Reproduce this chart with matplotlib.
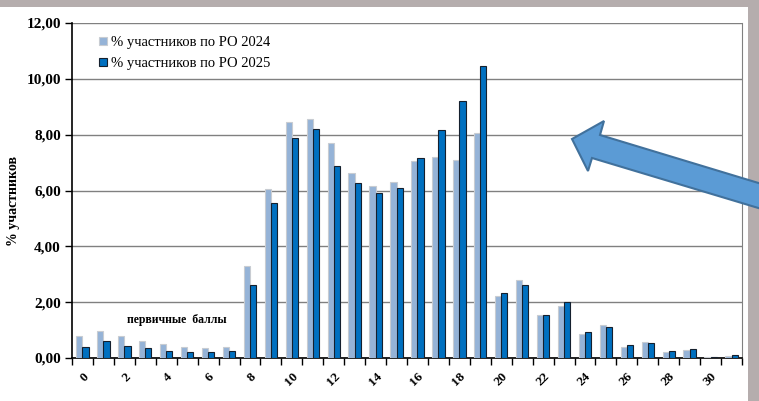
import numpy as np
import matplotlib
matplotlib.use("Agg")
import matplotlib.pyplot as plt
from matplotlib.patches import Polygon, Rectangle
from matplotlib.ticker import FuncFormatter

# первичные баллы 0..31
scores = list(range(32))
pct_2024 = [0.80, 0.98, 0.80, 0.62, 0.50, 0.40, 0.36, 0.38, 3.30, 6.07,
            8.47, 8.55, 7.69, 6.64, 6.17, 6.31, 7.04, 7.21, 7.10, 8.05,
            2.22, 2.78, 1.53, 1.85, 0.85, 1.19, 0.40, 0.58, 0.22, 0.29,
            0.02, 0.06]
pct_2025 = [0.38, 0.62, 0.44, 0.36, 0.26, 0.20, 0.20, 0.26, 2.62, 5.54,
            7.88, 8.19, 6.86, 6.28, 5.92, 6.08, 7.16, 8.17, 9.22, 10.45,
            2.34, 2.62, 1.55, 2.02, 0.94, 1.12, 0.47, 0.54, 0.24, 0.31,
            0.05, 0.10]
labels = ["% участников по РО 2024", "% участников по РО 2025"]
tick_labels = [str(s) for s in scores[::2]]

W, H = 759, 401
fig = plt.figure(figsize=(W / 100, H / 100), dpi=100)
fig.patch.set_facecolor("white")
ax = fig.add_axes([72 / W, 1 - 358 / H, 670 / W, 335 / H])

serif = ["Liberation Serif", "DejaVu Serif"]

x = np.array(scores)
w = 0.295
ax.bar(x - w / 2, pct_2024, w, color="#95b3d7", edgecolor="#c8ccd2",
       linewidth=0.8, label=labels[0], zorder=3)
ax.bar(x + w / 2, pct_2025, w, color="#0070c0", edgecolor="#15202e",
       linewidth=0.8, label=labels[1], zorder=3)

ax.set_xlim(-0.5, 31.5)
ax.set_ylim(0, 12)
ax.set_yticks(np.arange(0, 12.01, 2))
ax.yaxis.set_major_formatter(FuncFormatter(lambda v, p: f"{v:.2f}".replace(".", ",")))
ax.yaxis.grid(True, color="#808080", linewidth=1.0, zorder=0)

# деления по границам категорий, подписи по чётным баллам
ax.set_xticks(np.arange(-0.5, 32, 1))
ax.set_xticklabels([])
ax.set_xticks(scores[::2], minor=True)
ax.set_xticklabels(tick_labels, minor=True, rotation=45, ha="right",
                   rotation_mode="anchor", family=serif, fontweight="bold",
                   fontsize=9.5)
ax.tick_params(axis="x", which="major", direction="out", length=5,
               color="black", width=1)
ax.tick_params(axis="x", which="minor", length=0, pad=9)
ax.tick_params(axis="y", direction="out", length=5, width=1, pad=3)
for t in ax.get_yticklabels():
    t.set_family(serif)
    t.set_fontweight("bold")
    t.set_fontsize(11)

ax.spines["top"].set_visible(False)
ax.spines["right"].set_color("#808080")
ax.spines["left"].set_color("black")
ax.spines["bottom"].set_color("black")
ax.spines["left"].set_linewidth(1.2)
ax.spines["bottom"].set_linewidth(1.2)

ax.set_ylabel("% участников", family=serif, fontweight="bold", fontsize=10)
ax.yaxis.set_label_coords(-0.077, 0.47)

leg = ax.legend(loc="upper left", bbox_to_anchor=(0.02, 1.0), frameon=False,
                prop={"family": serif, "size": 10.5}, handlelength=0.55,
                handleheight=0.55, handletextpad=0.3, labelspacing=0.55)

ax.text(4.5, 1.36, "первичные  баллы", ha="center", va="center",
        family=serif, fontweight="bold", fontsize=8.5)

# рамка картинки
fig.patches.append(Rectangle((0, 1 - 7 / H), 1, 7 / H, transform=fig.transFigure,
                             facecolor="#b5adad", edgecolor="none", zorder=0))
fig.patches.append(Rectangle((748 / W, 0), 11 / W, 1, transform=fig.transFigure,
                             facecolor="#b5adad", edgecolor="none", zorder=0))

# стрелка
arrow_px = [(572, 139), (604, 121), (600, 135), (775, 188), (775, 213),
            (592, 158), (588, 171)]
arrow_pts = [(px / W, 1 - py / H) for px, py in arrow_px]
fig.patches.append(Polygon(arrow_pts, closed=True, transform=fig.transFigure,
                           facecolor="#5b9bd5", edgecolor="#41719c",
                           linewidth=1.5, zorder=10))

fig.savefig("out.png", dpi=100)
